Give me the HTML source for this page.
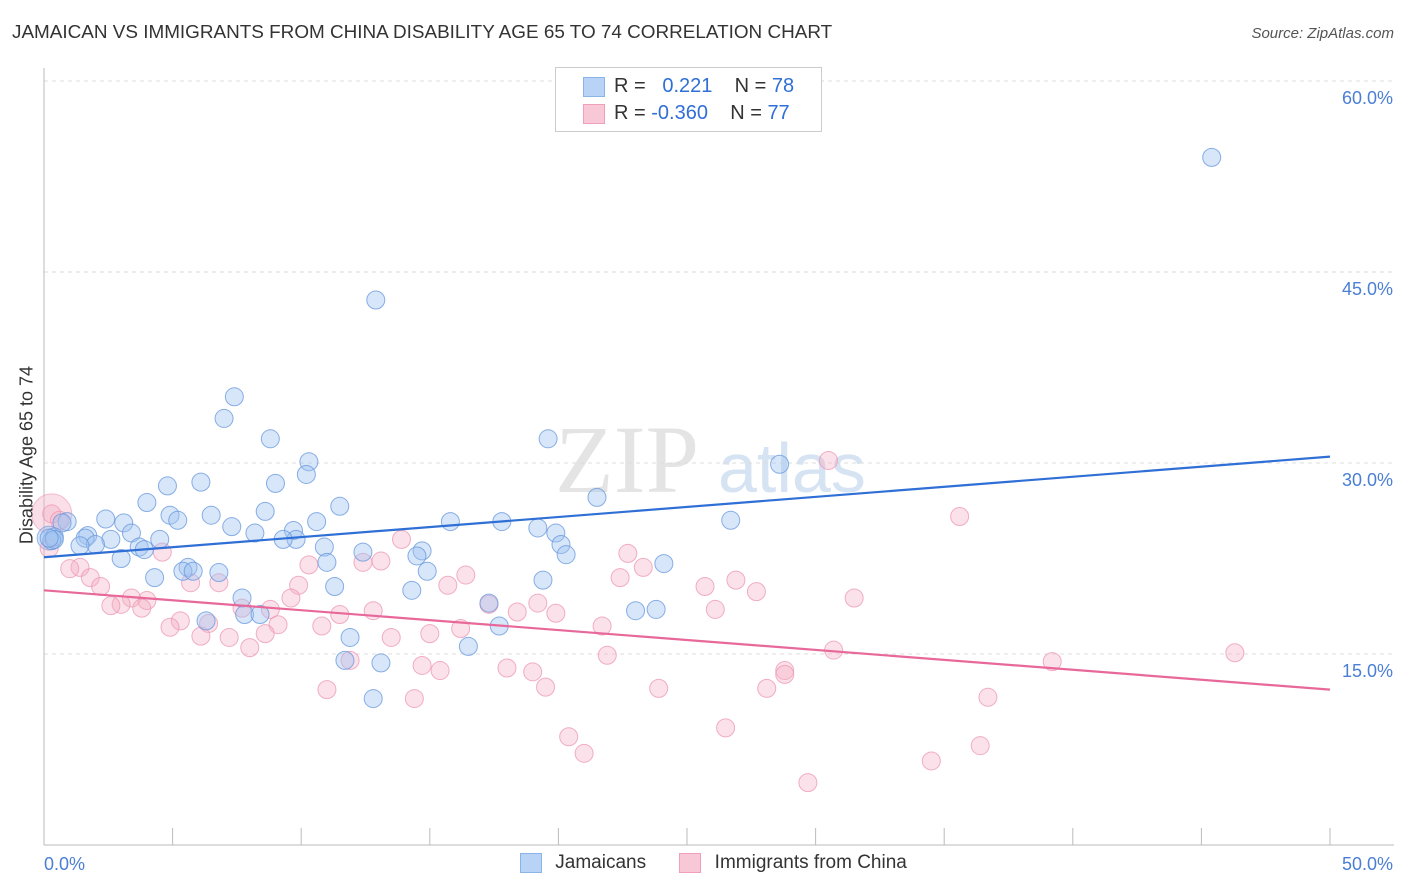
<!DOCTYPE html>
<html><head><meta charset="utf-8">
<style>
body{margin:0;background:#fff;font-family:"Liberation Sans",sans-serif;}
#wrap{position:relative;width:1406px;height:892px;overflow:hidden;}
.t{position:absolute;white-space:nowrap;}
</style></head>
<body>
<div id="wrap">
<div class="t" style="left:12px;top:22px;font-size:18.9px;color:#333;">JAMAICAN VS IMMIGRANTS FROM CHINA DISABILITY AGE 65 TO 74 CORRELATION CHART</div>
<div class="t" style="right:12px;top:25px;font-size:15px;color:#555;font-style:italic;">Source: ZipAtlas.com</div>
<svg id="plot" width="1406" height="892" style="position:absolute;left:0;top:0"></svg>
<div class="t" style="left:27px;top:455px;font-size:18px;color:#333;transform:translate(-50%,-50%) rotate(-90deg);">Disability Age 65 to 74</div>
<div style="position:absolute;left:555px;top:67px;width:265px;height:63px;border:1px solid #ccc;background:#fff;font-size:20px;">
  <div style="position:absolute;left:27px;top:9px;width:20px;height:18px;background:#b8d3f5;border:1px solid #8ab4e8;"></div>
  <div class="t" style="left:58px;top:7px;color:#333;">R = &nbsp;&nbsp;<span style="color:#2f6fd6">0.221</span>&nbsp;&nbsp;&nbsp; N = <span style="color:#2f6fd6">78</span></div>
  <div style="position:absolute;left:27px;top:36px;width:20px;height:18px;background:#f9c8d7;border:1px solid #f0a0bc;"></div>
  <div class="t" style="left:58px;top:34px;color:#333;">R = <span style="color:#2f6fd6">-0.360</span>&nbsp;&nbsp;&nbsp; N = <span style="color:#2f6fd6">77</span></div>
</div>
<div style="position:absolute;left:520px;top:852px;font-size:19px;color:#333;">
  <span style="display:inline-block;vertical-align:middle;width:20px;height:18px;background:#b8d3f5;border:1px solid #8ab4e8;"></span>
  <span style="vertical-align:middle;margin-left:8px;">Jamaicans</span>
  <span style="display:inline-block;vertical-align:middle;width:20px;height:18px;background:#f9c8d7;border:1px solid #f0a0bc;margin-left:28px;"></span>
  <span style="vertical-align:middle;margin-left:8px;">Immigrants from China</span>
</div>
</div>
<script>
const xTicks=[0,5,10,15,20,25,30,35,40,45,50];
const yTicks=[15,30,45,60];
const yTickLabels=["15.0%","30.0%","45.0%","60.0%"];
const blueX=[45.4,12.9,7.4,7.0,8.8,19.6,28.6,10.3,10.2,4.8,6.1,9.0,21.5,4.0,11.5,2.4,0.9,0.7,3.1,4.9,5.2,6.5,8.6,10.6,15.8,17.8,19.2,26.7,7.3,3.4,0.4,1.7,1.6,2.6,2.0,0.3,4.5,8.2,9.7,9.8,9.3,3.7,3.9,10.9,12.4,14.7,14.5,19.9,20.1,20.3,3.0,1.4,24.1,11.0,5.6,5.4,5.8,6.8,14.9,4.3,19.4,11.3,14.3,7.7,17.3,23.0,23.8,7.8,8.4,6.3,17.7,11.9,16.5,11.7,13.1,12.8,0.4,0.2];
const blueY=[54.0,42.8,35.2,33.5,31.9,31.9,29.9,30.1,29.1,28.2,28.5,28.4,27.3,26.9,26.6,25.6,25.4,25.3,25.3,25.9,25.5,25.9,26.2,25.4,25.4,25.4,24.9,25.5,25.0,24.5,24.2,24.3,24.1,24.0,23.6,23.9,24.0,24.5,24.7,24.0,24.0,23.4,23.2,23.4,23.0,23.1,22.7,24.5,23.6,22.8,22.5,23.5,22.1,22.2,21.8,21.5,21.5,21.4,21.5,21.0,20.8,20.3,20.0,19.4,19.0,18.4,18.5,18.1,18.1,17.6,17.2,16.3,15.6,14.5,14.3,11.5,24.0,24.1];
const pinkX=[30.5,35.6,0.3,0.6,13.9,4.6,22.7,1.4,1.0,23.3,13.1,12.4,10.3,16.4,15.7,1.8,22.4,26.9,25.7,6.8,5.7,9.9,27.7,31.5,2.2,4.0,3.4,3.0,2.6,17.3,19.2,9.6,7.7,8.8,3.8,5.3,6.4,10.8,11.5,12.8,18.4,19.9,26.1,4.9,9.1,8.6,6.1,7.2,8.0,13.5,15.0,16.2,21.7,21.9,30.7,39.2,46.3,14.7,15.4,18.0,19.0,28.8,28.8,28.1,23.9,19.5,11.0,14.4,36.7,11.9,26.5,20.4,21.0,34.5,36.4,29.7,0.2];
const pinkY=[30.2,25.8,26.0,25.5,24.0,23.0,22.9,21.8,21.7,21.8,22.3,22.2,22.0,21.2,20.4,21.0,21.0,20.8,20.3,20.6,20.6,20.4,19.9,19.4,20.3,19.2,19.4,18.9,18.8,18.9,19.0,19.4,18.6,18.5,18.6,17.6,17.4,17.2,18.1,18.4,18.3,18.2,18.5,17.1,17.3,16.6,16.4,16.3,15.5,16.3,16.6,17.0,17.2,14.9,15.3,14.4,15.1,14.1,13.7,13.9,13.6,13.7,13.4,12.3,12.3,12.4,12.2,11.5,11.6,14.5,9.2,8.5,7.2,6.6,7.8,4.9,23.3];
const blueTrend=[22.6,30.5];
const pinkTrend=[20.0,12.2];

const NS="http://www.w3.org/2000/svg";
const svg=document.getElementById('plot');
const X0=44,X1=1330,Y0=845,PER=191/15;
const xs=v=>X0+(X1-X0)*v/50;
const ys=v=>Y0-v*PER;
function mk(tag,attrs){const e=document.createElementNS(NS,tag);for(const k in attrs)e.setAttribute(k,attrs[k]);svg.appendChild(e);return e;}

let wm=mk('text',{x:555,y:492,'font-size':96,fill:'#e4e4e4','font-family':'Liberation Serif, serif'});wm.textContent='ZIP';


let wm2=mk('text',{x:718,y:492,'font-size':70,fill:'#d6e3f3','font-family':'Liberation Sans, sans-serif'});wm2.textContent='atlas';



yTicks.forEach((v,i)=>{
  const g=mk('line',{x1:X0,x2:1394,y1:ys(v),y2:ys(v),stroke:'#dddddd','stroke-dasharray':'4,4'});
  
  
  const t=mk('text',{x:1393,y:ys(v)+23,'text-anchor':'end','font-size':18,fill:'#4a7fd4','font-family':'Liberation Sans, sans-serif'});
  t.textContent=yTickLabels[i];
  
  
});
const ax=mk('line',{x1:X0,x2:X0,y1:68,y2:Y0,stroke:'#bbb'});


const bx=mk('line',{x1:X0,x2:1394,y1:Y0,y2:Y0,stroke:'#bbb'});


xTicks.forEach(v=>{
  const l=mk('line',{x1:xs(v),x2:xs(v),y1:828,y2:Y0,stroke:'#bbb'});
  
  
});
const xl0=mk('text',{x:44,y:870,'font-size':18,fill:'#4a7fd4','font-family':'Liberation Sans, sans-serif'});xl0.textContent='0.0%';


const xl1=mk('text',{x:1393,y:870,'text-anchor':'end','font-size':18,fill:'#4a7fd4','font-family':'Liberation Sans, sans-serif'});xl1.textContent='50.0%';



const bp=mk('circle',{cx:xs(0.3),cy:ys(26.0),r:20,fill:'rgba(245,175,198,0.4)',stroke:'rgba(236,150,180,0.6)'});


const bb=mk('circle',{cx:xs(0.2),cy:ys(24.1),r:12,fill:'rgba(160,196,240,0.45)',stroke:'rgba(110,160,225,0.7)'});



pinkX.forEach((v,i)=>{
  const c=mk('circle',{cx:xs(v),cy:ys(pinkY[i]),r:9,fill:'rgba(245,175,198,0.38)',stroke:'rgba(236,150,180,0.75)','stroke-width':1});
  
  
});
blueX.forEach((v,i)=>{
  const c=mk('circle',{cx:xs(v),cy:ys(blueY[i]),r:9,fill:'rgba(160,196,240,0.42)',stroke:'rgba(100,150,220,0.75)','stroke-width':1});
  
  
});
const tb=mk('line',{x1:xs(0),x2:xs(50),y1:ys(blueTrend[0]),y2:ys(blueTrend[1]),stroke:'#2f6fd6','stroke-width':2.2});


const tp=mk('line',{x1:xs(0),x2:xs(50),y1:ys(pinkTrend[0]),y2:ys(pinkTrend[1]),stroke:'#e8689a','stroke-width':2.2});


</script>
</body></html>
